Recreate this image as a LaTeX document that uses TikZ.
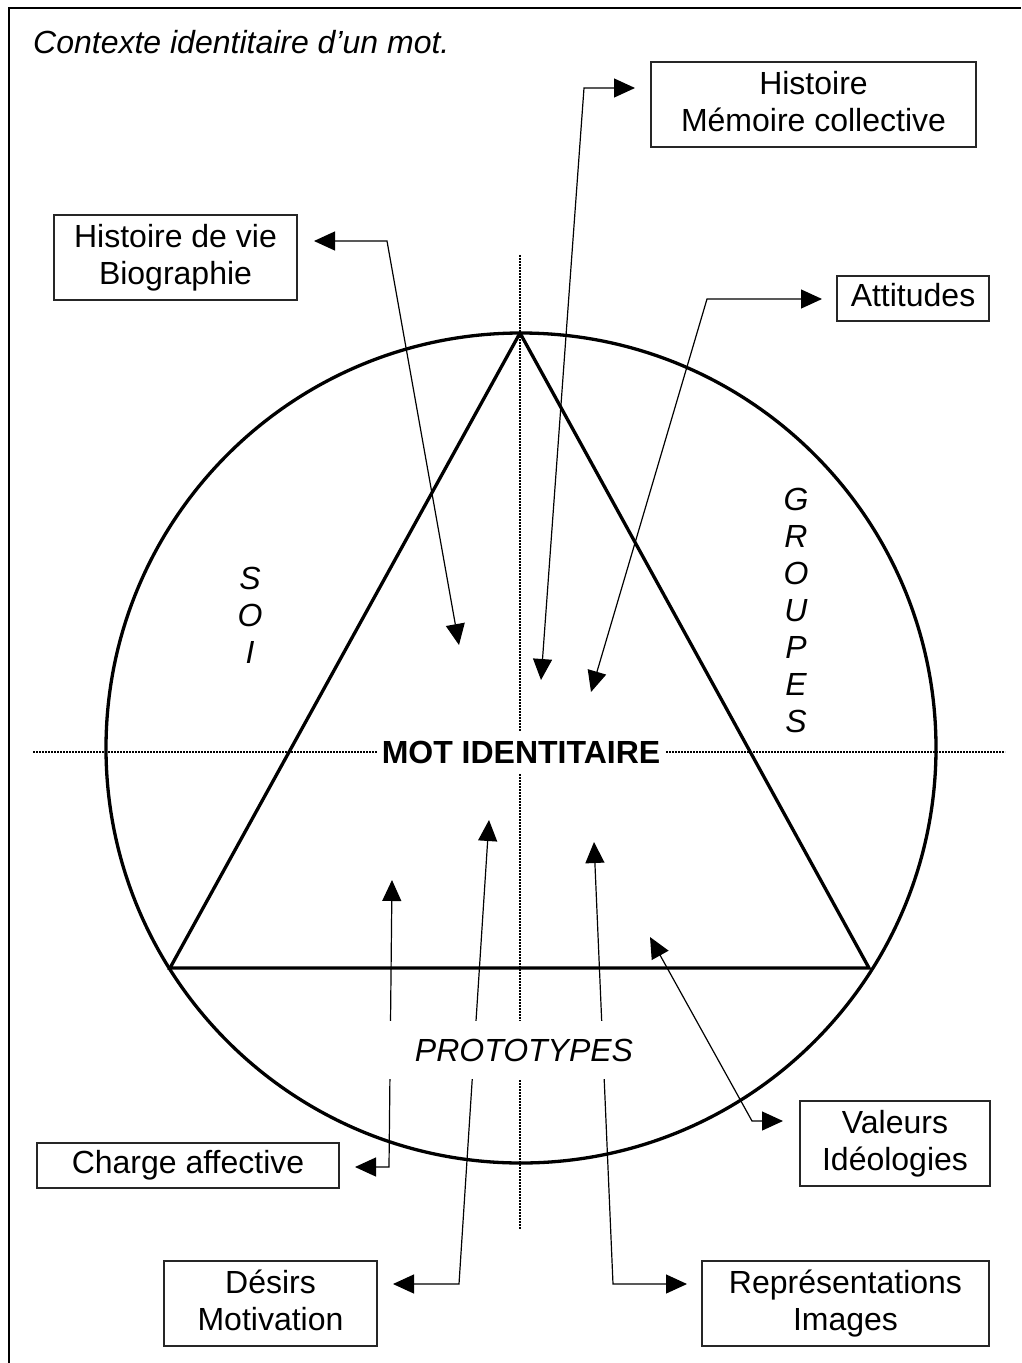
\documentclass[tikz,border=0pt]{standalone}
\usepackage{fontspec}
\setmainfont{Liberation Sans}
\usetikzlibrary{arrows.meta}
\newcommand\bigsz{\fontsize{32}{37}\selectfont}
\begin{document}
\begin{tikzpicture}[x=1pt,y=-1pt,
  box/.style={draw=black!85, line width=1.1pt, align=center, inner sep=0pt, font=\bigsz},
  thick line/.style={line width=3.3pt},
  dots/.style={line width=1.6pt, dash pattern=on 1.6pt off 1.4pt},
  arr/.style={line width=1.2pt, {Triangle[length=21pt,width=19pt]}-{Triangle[length=21pt,width=19pt]}},
  lbl/.style={font=\bigsz\itshape, align=center, inner sep=0pt}]
\useasboundingbox (0,0) rectangle (1021,1363);
% frame (top and left edges)
\draw[line width=2pt] (9,1363) -- (9,8) -- (1021,8);
% title
\node[lbl, anchor=west] (title) at (33,42) {Contexte identitaire d’un mot.};
% boxes
\node[box, minimum width=325pt, minimum height=85pt] (hm) at (813.5,104.5) {Histoire\\Mémoire collective\vphantom{g}};
\node[box, minimum width=243pt, minimum height=85pt] (hv) at (175.5,257.5) {Histoire de vie\\Biographie};
\node[box, minimum width=152pt, minimum height=45pt] (att) at (913,298.5) {Attitudes\vphantom{g}};
\node[box, minimum width=190pt, minimum height=85pt] (val) at (895,1143.5) {Valeurs\\Idéologies};
\node[box, minimum width=302pt, minimum height=45pt] (ch) at (188,1165.5) {Charge affective};
\node[box, minimum width=213pt, minimum height=85pt] (de) at (270.5,1303.5) {Désirs\\Motivation\vphantom{g}};
\node[box, minimum width=287pt, minimum height=85pt] (rep) at (845.5,1303.5) {Représentations\\Images};
% dotted axes
\coordinate (hl) at (33,752);
\coordinate (hr) at (1005,752);
\coordinate (vt) at (520,255);
\coordinate (vb) at (520,1229);
\draw[dots] (hl) -- (hr);
\draw[dots] (vt) -- (vb);
% circle and triangle
\coordinate (ctr) at (521,748);
\draw[thick line] (ctr) circle[radius=415pt];
\coordinate (ta) at (520,333);
\coordinate (tl) at (170,968);
\coordinate (tr) at (869,968);
\draw[thick line, line join=miter] (ta) -- (tl) -- (tr) -- cycle;
% connector points
\coordinate (hvE) at (314,241);   \coordinate (hvB) at (387,241);   \coordinate (hvI) at (459,645);
\coordinate (hmE) at (635,88);    \coordinate (hmB) at (584,88);    \coordinate (hmI) at (541,680);
\coordinate (atE) at (822,299);   \coordinate (atB) at (707,299);   \coordinate (atI) at (591,692);
\coordinate (vaE) at (783,1121);  \coordinate (vaB) at (752,1121);  \coordinate (vaI) at (650,937);
\coordinate (chE) at (355,1167);  \coordinate (chB) at (389,1167);  \coordinate (chI) at (392,880);
\coordinate (deE) at (393,1284);  \coordinate (deB) at (459,1284);  \coordinate (deI) at (489,820);
\coordinate (reE) at (687,1284);  \coordinate (reB) at (613,1284);  \coordinate (reI) at (594,842);
\draw[arr] (hvE) -- (hvB) -- (hvI);
\draw[arr] (hmE) -- (hmB) -- (hmI);
\draw[arr] (atE) -- (atB) -- (atI);
\draw[arr] (vaE) -- (vaB) -- (vaI);
\draw[arr] (chE) -- (chB) -- (chI);
\draw[arr] (deE) -- (deB) -- (deI);
\draw[arr] (reE) -- (reB) -- (reI);
% central labels
\node[fill=white, font=\bigsz\bfseries, inner xsep=5pt, minimum height=41pt] (mot) at (521,752) {MOT IDENTITAIRE};
\node[lbl, fill=white, minimum width=280pt, minimum height=58pt] (proto) at (524,1050) {PROTOTYPES};
\node[lbl] (soi) at (250,615) {S\\O\\I};
\node[lbl] (grp) at (796,610) {G\\R\\O\\U\\P\\E\\S};
\end{tikzpicture}
\end{document}
